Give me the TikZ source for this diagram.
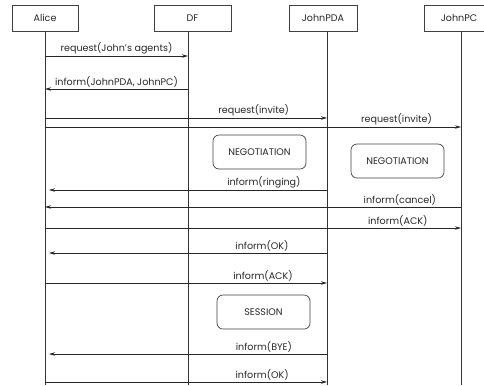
\documentclass[tikz,border=0pt]{standalone}
\usepackage{fontspec}
\setmainfont{Poppins}
\usetikzlibrary{arrows.meta}
\begin{document}
\begin{tikzpicture}[x=1bp,y=-1bp,
  every node/.style={font=\fontsize{9.6}{11}\selectfont, text=black!85},
  head/.style={draw=black!75, line width=0.7pt, minimum height=26bp, inner sep=0pt},
  life/.style={draw=black!80, line width=0.8pt},
  msg/.style={draw=black!85, line width=0.8pt, -{Stealth[length=6bp,width=3.5bp]}},
  lbl/.style={inner sep=1.5bp},
  act/.style={draw=black!75, line width=0.7pt, rounded corners=6bp, minimum width=93bp, minimum height=34bp}]
\useasboundingbox (0,0) rectangle (484,385);
% headers
\node[head, minimum width=66bp] (alice) at (45,18) {Alice};
\node[head, minimum width=77bp] (df) at (192.5,18) {DF};
\node[head, minimum width=68bp] (pda) at (323,18) {JohnPDA};
\node[head, minimum width=70bp] (pc) at (459,18) {JohnPC};
% lifeline bottoms
\coordinate (aB) at (45,385);
\coordinate (dB) at (188,385);
\coordinate (pB) at (327,385);
\coordinate (cB) at (461,385);
\draw[life] (45,31) -- (aB);
\draw[life] (188,31) -- (dB);
\draw[life] (327,31) -- (pB);
\draw[life] (461,31) -- (cB);
% message endpoints
\foreach \n/\y in {1/56,2/89,3/118,4/127,5/190,6/207,7/228,8/253,9/283,10/354,11/382}{
  \coordinate (a\n) at (45,\y);
  \coordinate (as\n) at (49,\y);
  \coordinate (d\n) at (188,\y);
  \coordinate (p\n) at (327,\y);
  \coordinate (c\n) at (461,\y);
}
\draw[msg] (a1) -- node[lbl, above] {request(John's agents)} (d1);
\draw[msg] (d2) -- node[lbl, above] {inform(JohnPDA, JohnPC)} (a2);
\draw[msg] (a3) -- node[lbl, above, pos=0.74] {request(invite)} (p3);
\draw[msg] (a4) -- node[lbl, above, pos=0.845] {request(invite)} (c4);
\node[act] (neg1) at (259.5,152) {NEGOTIATION};
\node[act] (neg2) at (397.5,161) {NEGOTIATION};
\draw[msg] (p5) -- node[lbl, above, pos=0.227] {inform(ringing)} (as5);
\draw[msg] (c6) -- node[lbl, above, pos=0.147] {inform(cancel)} (a6);
\draw[msg] (a7) -- node[lbl, above, pos=0.848] {inform(ACK)} (c7);
\draw[msg] (p8) -- node[lbl, above, pos=0.234] {inform(OK)} (as8);
\draw[msg] (a9) -- node[lbl, above, pos=0.773] {inform(ACK)} (p9);
\node[act] (sess) at (263.5,312) {SESSION};
\draw[msg] (p10) -- node[lbl, above, pos=0.227] {inform(BYE)} (as10);
\draw[msg] (a11) -- node[lbl, above, pos=0.77] {inform(OK)} (p11);
\end{tikzpicture}
\end{document}
